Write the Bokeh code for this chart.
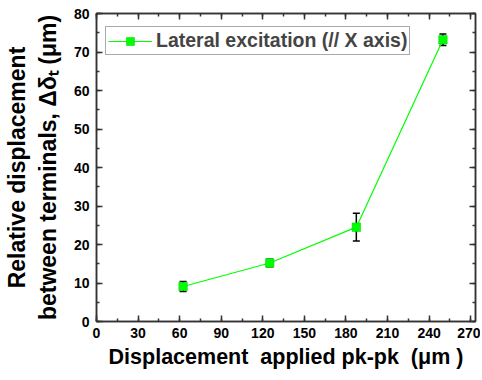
from bokeh.plotting import figure
from bokeh.models import (ColumnDataSource, Whisker, TeeHead, LinearAxis, Legend, LegendItem,
                          SingleIntervalTicker, Range1d)
from bokeh.embed import file_html
from bokeh.resources import INLINE

x_vals = [62.5, 125, 187.5, 250]
y_vals = [9.1, 15.2, 24.5, 73.2]
y_err = [1.3, 1.0, 3.6, 1.5]
series_name = "Lateral excitation (// X axis)"
x_title = "Displacement\u00a0\u00a0applied pk-pk\u00a0\u00a0(\u03bcm )"
y_title = "Relative displacement\nbetween terminals, \u0394\u03b4\u209c (\u03bcm)"

FONT = "Liberation Sans"

src = ColumnDataSource(dict(
    x=x_vals, y=y_vals,
    upper=[a + b for a, b in zip(y_vals, y_err)],
    lower=[a - b for a, b in zip(y_vals, y_err)],
))

p = figure(width=480, height=378, output_backend="svg", toolbar_location=None,
           x_range=Range1d(0, 273.5), y_range=Range1d(0, 80),
           min_border_left=96, min_border_top=13, min_border_right=5, min_border_bottom=57)
p.xgrid.visible = False
p.ygrid.visible = False
p.outline_line_color = "#333333"
p.outline_line_width = 1.5

bottom = p.below[0]
left = p.left[0]

line = p.line("x", "y", source=src, line_color="#00ff00", line_width=1.2)
w = Whisker(source=src, base="x", upper="upper", lower="lower", line_color="black", line_width=1.5,
            upper_head=TeeHead(size=7, line_color="black", line_width=1.5),
            lower_head=TeeHead(size=7, line_color="black", line_width=1.5))
p.add_layout(w)
pts = p.scatter("x", "y", source=src, marker="square", size=8.5, fill_color="#00ff00",
                line_color="#00cc00", line_width=0.5)


def style_axis(ax, labels=True):
    ax.major_tick_in = 6
    ax.major_tick_out = 0
    ax.minor_tick_in = 3
    ax.minor_tick_out = 0
    ax.axis_line_color = "#333333"
    ax.axis_line_width = 1.5
    ax.major_tick_line_color = "#333333"
    ax.minor_tick_line_color = "#333333"
    ax.major_tick_line_width = 1.5
    ax.minor_tick_line_width = 1.5
    ax.major_label_text_font = FONT
    ax.major_label_text_font_style = "bold"
    ax.major_label_text_font_size = "14px"
    ax.major_label_text_color = "black"
    if not labels:
        ax.major_label_text_font_size = "0px"
        ax.major_label_text_alpha = 0
        ax.major_label_standoff = 0


bottom.ticker = SingleIntervalTicker(interval=30, num_minor_ticks=2)
left.ticker = SingleIntervalTicker(interval=10, num_minor_ticks=2)
style_axis(bottom)
style_axis(left)
bottom.major_label_standoff = 6
left.major_label_standoff = 7

top = LinearAxis(ticker=SingleIntervalTicker(interval=30, num_minor_ticks=2))
right = LinearAxis(ticker=SingleIntervalTicker(interval=10, num_minor_ticks=2))
style_axis(top, labels=False)
style_axis(right, labels=False)
p.add_layout(top, "above")
p.add_layout(right, "right")

bottom.axis_label = x_title
bottom.axis_label_text_font = FONT
bottom.axis_label_text_font_style = "bold"
bottom.axis_label_text_font_size = "21.5px"
bottom.axis_label_text_color = "black"
bottom.axis_label_standoff = 4

left.axis_label = y_title
left.axis_label_text_font = FONT
left.axis_label_text_font_style = "bold"
left.axis_label_text_font_size = "23px"
left.axis_label_text_color = "black"
left.axis_label_standoff = 10

legend = Legend(items=[LegendItem(label=series_name, renderers=[line, pts])],
                location=(9, 266), glyph_width=44, label_text_font=FONT,
                label_text_font_style="bold", label_text_font_size="19.5px",
                border_line_color="#555555", border_line_width=1.5,
                padding=2, margin=0, spacing=0, label_standoff=4)
p.add_layout(legend)

open("out.html", "w").write(file_html(p, INLINE))
